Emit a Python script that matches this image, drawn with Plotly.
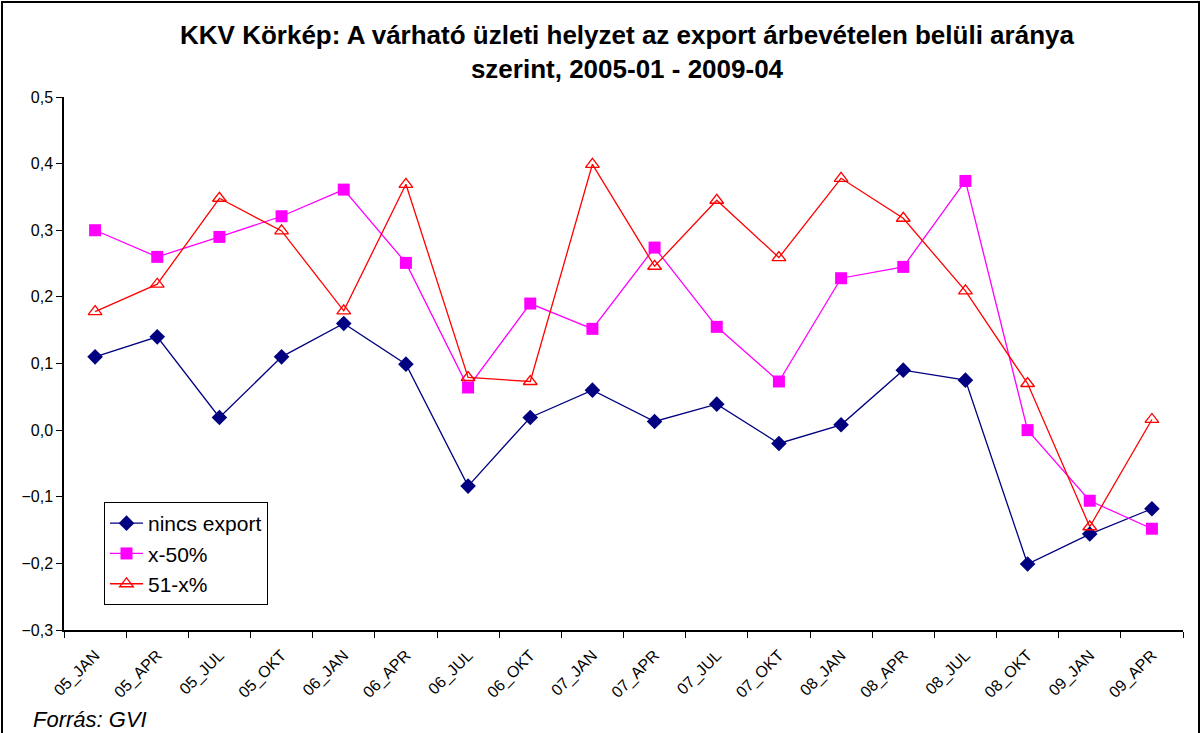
import plotly.graph_objects as go

categories = ["05_JAN", "05_APR", "05_JUL", "05_OKT", "06_JAN", "06_APR", "06_JUL", "06_OKT",
              "07_JAN", "07_APR", "07_JUL", "07_OKT", "08_JAN", "08_APR", "08_JUL", "08_OKT",
              "09_JAN", "09_APR"]
nincs_export = [0.110, 0.140, 0.019, 0.110, 0.160, 0.099, -0.084, 0.019,
                0.060, 0.013, 0.039, -0.020, 0.008, 0.090, 0.075, -0.201,
                -0.156, -0.118]
x_50 = [0.300, 0.260, 0.290, 0.321, 0.361, 0.251, 0.064, 0.190,
        0.152, 0.274, 0.155, 0.073, 0.228, 0.245, 0.374, 0.000,
        -0.106, -0.148]
x_51 = [0.178, 0.219, 0.348, 0.299, 0.179, 0.369, 0.079, 0.073,
        0.399, 0.246, 0.345, 0.259, 0.378, 0.318, 0.209, 0.070,
        -0.145, 0.016]
y_ticks = [-0.3, -0.2, -0.1, 0.0, 0.1, 0.2, 0.3, 0.4, 0.5]

W, H = 1202, 733
L, R, T, B = 64, 1183, 97, 630
FONT = "Liberation Sans, Arial, sans-serif"


def px(xp):
    return (xp - L) / (R - L)


def py(yp):
    return (B - yp) / (B - T)


fig = go.Figure()
fig.add_trace(go.Scatter(
    x=categories, y=nincs_export, name="nincs export", mode="lines+markers",
    line=dict(color="#000080", width=1.3),
    marker=dict(symbol="diamond", size=12, color="#000080")))
fig.add_trace(go.Scatter(
    x=categories, y=x_50, name="x-50%", mode="lines+markers",
    line=dict(color="#FF00FF", width=1.3),
    marker=dict(symbol="square", size=12, color="#FF00FF")))
fig.add_trace(go.Scatter(
    x=categories, y=x_51, name="51-x%", mode="lines+markers",
    line=dict(color="#FF0000", width=1.3),
    marker=dict(symbol="triangle-up-open", size=12, color="#FF0000",
                line=dict(width=1.3, color="#FF0000"))))

fig.update_layout(
    width=W, height=H,
    margin=dict(l=L, r=W - R, t=T, b=H - B, pad=0),
    paper_bgcolor="white", plot_bgcolor="white",
    separators=",.",
    font=dict(family=FONT, color="black"),
    title=dict(text="<b>KKV Körkép: A várható üzleti helyzet az export árbevételen belüli aránya<br>szerint, 2005-01 - 2009-04</b>",
               x=px(627), xanchor="center", xref="paper", y=1 - 44 / H, yanchor="middle",
               font=dict(size=26, family=FONT, color="black")),
    showlegend=True,
    legend=dict(x=px(104), y=py(502), xanchor="left", yanchor="top",
                bgcolor="white", bordercolor="black", borderwidth=1,
                font=dict(size=21, family=FONT, color="black"),
                itemwidth=33, tracegroupgap=0),
    xaxis=dict(type="category", range=[-0.5, len(categories) - 0.5],
               showline=True, linecolor="black", linewidth=1.5,
               ticks="outside", ticklen=6, tickcolor="black", tickson="boundaries",
               tickangle=-45, tickfont=dict(size=16, family=FONT, color="black"),
               ticklabelstandoff=8,
               showgrid=False, zeroline=False),
    yaxis=dict(range=[-0.3, 0.5], tickvals=y_ticks, tickformat=".1f",
               showline=True, linecolor="black", linewidth=1.5,
               ticks="outside", ticklen=6, tickcolor="black",
               tickfont=dict(size=16, family=FONT, color="black"),
               showgrid=False, zeroline=False),
    shapes=[dict(type="rect", xref="paper", yref="paper",
                 x0=px(2), x1=px(1199), y0=py(734), y1=py(2),
                 line=dict(color="black", width=2), fillcolor="rgba(0,0,0,0)", layer="below")],
    annotations=[dict(text="<i>Forrás: GVI</i>", xref="paper", yref="paper",
                      x=px(31), y=py(719), xanchor="left", yanchor="middle", showarrow=False,
                      font=dict(size=22, family=FONT, color="black"))],
)

fig.write_html("out.html", config={"displayModeBar": False},
               post_script="document.body.style.margin='0';document.body.style.overflow='hidden';")
